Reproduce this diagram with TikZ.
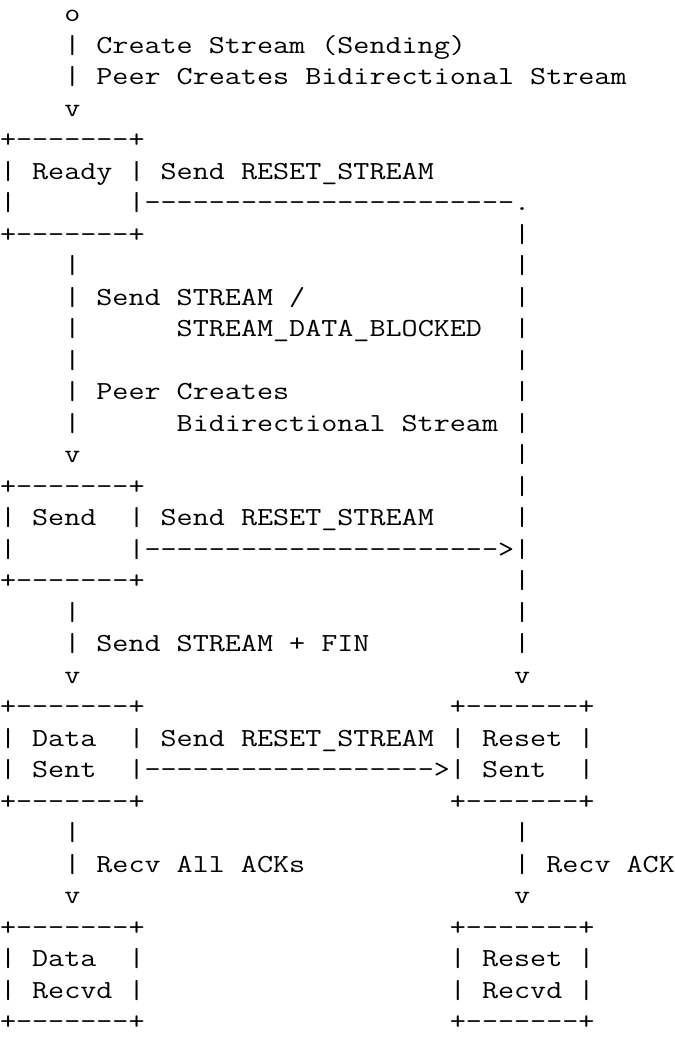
\documentclass[tikz,border=0pt]{standalone}
\usepackage{fontspec}
\newcommand\sk[1]{\kern#1\fontdimen2\font}
\tikzset{
  txtline/.style={anchor=base west, inner sep=0pt, outer sep=0pt,
    xscale=1.2, transform shape,
    font=\ttfamily\fontsize{26pt}{31.5pt}\selectfont, text=black}
}
\begin{document}
\begin{tikzpicture}[x=1pt,y=1pt]
\useasboundingbox (0,0) rectangle (675,-1037);
\fill[white] (0,0) rectangle (675,-1037);
\node[txtline] (L1) at (0,-21.5) {\sk{4}o};
\node[txtline] (L2) at (0,-53) {\sk{4}| Create Stream (Sending)};
\node[txtline] (L3) at (0,-84.5) {\sk{4}| Peer Creates Bidirectional Stream};
\node[txtline] (L4) at (0,-116) {\sk{4}v};
\node[txtline] (L5) at (0,-147.5) {+-------+};
\node[txtline] (L6) at (0,-179) {| Ready | Send RESET\_STREAM};
\node[txtline] (L7) at (0,-210.5) {|\sk{7}|-----------------------.};
\node[txtline] (L8) at (0,-242) {+-------+\sk{23}|};
\node[txtline] (L9) at (0,-273.5) {\sk{4}|\sk{27}|};
\node[txtline] (L10) at (0,-305) {\sk{4}| Send STREAM /\sk{13}|};
\node[txtline] (L11) at (0,-336.5) {\sk{4}|\sk{6}STREAM\_DATA\_BLOCKED\sk{2}|};
\node[txtline] (L12) at (0,-368) {\sk{4}|\sk{27}|};
\node[txtline] (L13) at (0,-399.5) {\sk{4}| Peer Creates\sk{14}|};
\node[txtline] (L14) at (0,-431) {\sk{4}|\sk{6}Bidirectional Stream |};
\node[txtline] (L15) at (0,-462.5) {\sk{4}v\sk{27}|};
\node[txtline] (L16) at (0,-494) {+-------+\sk{23}|};
\node[txtline] (L17) at (0,-525.5) {| Send\sk{2}| Send RESET\_STREAM\sk{5}|};
\node[txtline] (L18) at (0,-557) {|\sk{7}|---------------------->|};
\node[txtline] (L19) at (0,-588.5) {+-------+\sk{23}|};
\node[txtline] (L20) at (0,-620) {\sk{4}|\sk{27}|};
\node[txtline] (L21) at (0,-651.5) {\sk{4}| Send STREAM + FIN\sk{9}|};
\node[txtline] (L22) at (0,-683) {\sk{4}v\sk{27}v};
\node[txtline] (L23) at (0,-714.5) {+-------+\sk{19}+-------+};
\node[txtline] (L24) at (0,-746) {| Data\sk{2}| Send RESET\_STREAM | Reset |};
\node[txtline] (L25) at (0,-777.5) {| Sent\sk{2}|------------------>| Sent\sk{2}|};
\node[txtline] (L26) at (0,-809) {+-------+\sk{19}+-------+};
\node[txtline] (L27) at (0,-840.5) {\sk{4}|\sk{27}|};
\node[txtline] (L28) at (0,-872) {\sk{4}| Recv All ACKs\sk{13}| Recv ACK};
\node[txtline] (L29) at (0,-903.5) {\sk{4}v\sk{27}v};
\node[txtline] (L30) at (0,-935) {+-------+\sk{19}+-------+};
\node[txtline] (L31) at (0,-966.5) {| Data\sk{2}|\sk{19}| Reset |};
\node[txtline] (L32) at (0,-998) {| Recvd |\sk{19}| Recvd |};
\node[txtline] (L33) at (0,-1029.5) {+-------+\sk{19}+-------+};
\end{tikzpicture}
\end{document}
